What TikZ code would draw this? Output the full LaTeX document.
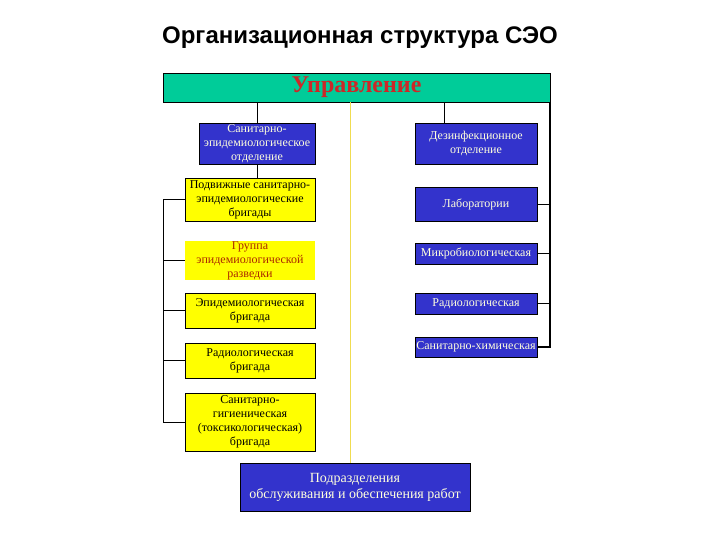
\documentclass[tikz,border=0pt]{standalone}
\usepackage{fontspec}
\setmainfont{Liberation Serif}
\newfontfamily\titlefont{Liberation Sans}
\usepackage{xcolor}
\usetikzlibrary{calc}

\definecolor{uprgreen}{RGB}{0,204,153}
\definecolor{boxblue}{RGB}{51,51,204}
\definecolor{boxyellow}{RGB}{255,255,0}
\definecolor{palefont}{RGB}{255,255,220}
\definecolor{uprred}{RGB}{204,40,40}
\definecolor{grpred}{RGB}{170,40,0}
\definecolor{axisyellow}{RGB}{240,220,80}

\begin{document}
\begin{tikzpicture}[
  x=1pt, y=-1pt,
  bluebox/.style={rectangle, draw, fill=boxblue, text=palefont, inner sep=0pt, align=center, font=\fontsize{12}{14}\selectfont, minimum width=122pt},
  yelbox/.style={rectangle, draw, fill=boxyellow, inner sep=0pt, align=center, font=\fontsize{12}{14}\selectfont, minimum width=130pt, minimum height=35pt},
  link/.style={line width=0.8pt},
  bus/.style={line width=1.8pt}
]
  \useasboundingbox (0,0) rectangle (720,540);

  \node[font=\titlefont\bfseries\fontsize{24}{27}\selectfont] (title) at (360,38) {Организационная структура СЭО};

  \node[rectangle, draw, fill=uprgreen, minimum width=387pt, minimum height=29pt, inner sep=0pt,
        text=uprred, font=\bfseries\fontsize{24}{27}\selectfont] (upr) at (356.5,87.5) {Управление};

  % left column
  \node[bluebox, minimum width=116pt, minimum height=41pt] (sanepid) at (257,143.5) {Санитарно-\\эпидемиологическое\\отделение};
  \node[yelbox, minimum height=43pt] (podv) at (250,199.5) {Подвижные санитарно-\\эпидемиологические\\бригады};
  \node[yelbox, draw=none, text=grpred] (grp) at (250,260.5) {Группа\\эпидемиологической\\разведки};
  \node[yelbox] (epid) at (250,310.5) {Эпидемиологическая\\бригада};
  \node[yelbox] (radbr) at (250,360.5) {Радиологическая\\бригада};
  \node[yelbox, minimum height=58pt] (sangig) at (250,422) {Санитарно-\\гигиеническая\\(токсикологическая)\\бригада};

  % right column
  \node[bluebox, minimum height=41pt] (dezinf) at (476,143.5) {Дезинфекционное\\отделение};
  \node[bluebox, minimum height=34pt] (lab) at (476,204) {Лаборатории};
  \node[bluebox, minimum height=21pt] (micro) at (476,253.5) {Микробиологическая};
  \node[bluebox, minimum height=21pt] (radlab) at (476,303.5) {Радиологическая};
  \node[bluebox, minimum height=20pt] (sanchim) at (476,347) {Санитарно-химическая};

  \node[bluebox, minimum width=230pt, minimum height=48pt, font=\fontsize{14}{16}\selectfont] (podr) at (355,487) {Подразделения\\обслуживания и обеспечения работ};

  \coordinate (lbus) at (163,0);
  \coordinate (dzin) at (444,0);
  \coordinate (axis) at (350,0);

  \draw[axisyellow, line width=1pt] (podr.north -| axis) -- (upr.south -| axis);
  \draw[link] (upr.south -| sanepid.north) -- (sanepid.north);
  \draw[link] (sanepid.south) -- (sanepid.south |- podv.north);
  \draw[link] (upr.south -| dzin) -- (dezinf.north -| dzin);

  \draw[link] (podv.west) -- (podv.west -| lbus) -- (sangig.west -| lbus) -- (sangig.west);
  \draw[link] (grp.west) -- (grp.west -| lbus);
  \draw[link] (epid.west) -- (epid.west -| lbus);
  \draw[link] (radbr.west) -- (radbr.west -| lbus);

  \draw[bus] (upr.south east) -- (upr.south east |- sanchim.east) -- (sanchim.east);
  \draw[link] (lab.east) -- (lab.east -| upr.south east);
  \draw[link] (micro.east) -- (micro.east -| upr.south east);
  \draw[link] (radlab.east) -- (radlab.east -| upr.south east);
\end{tikzpicture}
\end{document}
